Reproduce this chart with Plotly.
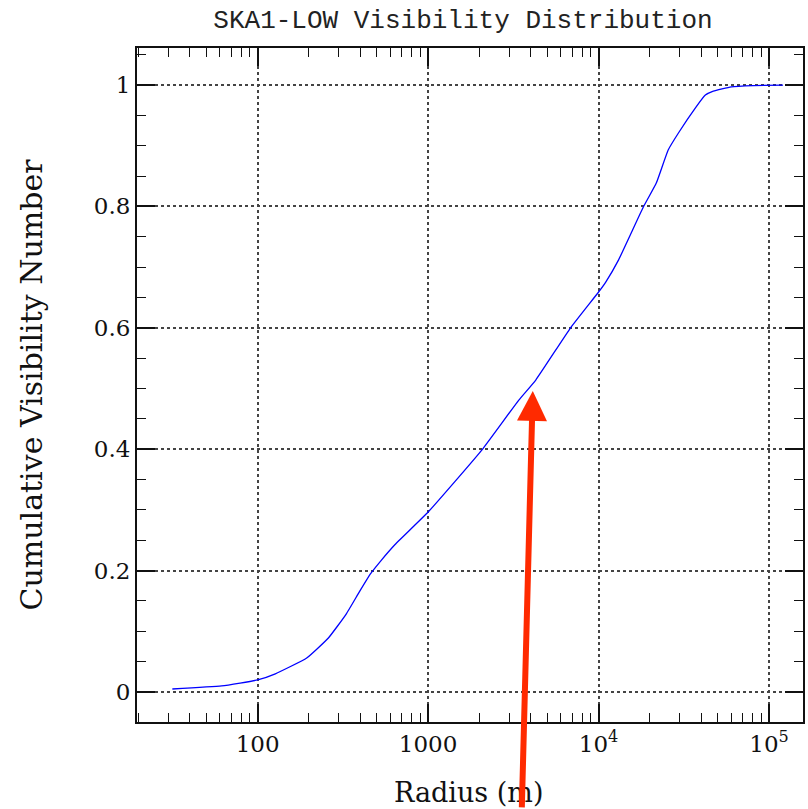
import plotly.graph_objects as go

radius_m = [31.6, 61.5, 100, 127, 194, 260, 330, 395, 460, 531, 640, 1000, 2070, 3405, 4280,
            6850, 10000, 10990, 13100, 18300, 21800, 25600, 29400, 36900, 42300, 47100,
            60000, 81000, 120800]
cum_frac = [0.005, 0.010, 0.020, 0.030, 0.056, 0.089, 0.128, 0.165, 0.195, 0.217, 0.243, 0.2965,
            0.399, 0.481, 0.514, 0.600, 0.659, 0.675, 0.712, 0.799, 0.8385, 0.893, 0.921,
            0.962, 0.9835, 0.990, 0.997, 0.999, 1.0]

x_tickvals = [100, 1000, 10000, 100000]
x_ticktext = ["100", "1000", "10<sup>4</sup>", "10<sup>5</sup>"]
x_minor_vals = [m * 10 ** d for d in range(1, 6) for m in range(2, 10)]
y_tickvals = [0, 0.2, 0.4, 0.6, 0.8, 1.0]
y_ticktext = ["0", "0.2", "0.4", "0.6", "0.8", "1"]

title_text = "SKA1-LOW Visibility Distribution"
x_title = "Radius (m)"
y_title = "Cumulative Visibility Number"

serif = "DejaVu Serif"

fig = go.Figure()
fig.add_trace(go.Scatter(x=radius_m, y=cum_frac, mode="lines",
                         line=dict(color="#0000ff", width=1.3, shape="spline", smoothing=0.4),
                         showlegend=False, hoverinfo="skip"))

fig.update_layout(
    width=808, height=809,
    margin=dict(l=137, r=3, t=48, b=87),
    paper_bgcolor="white", plot_bgcolor="white",
    title=dict(text=title_text, x=0.573, xanchor="center", y=1 - 19 / 809,
               yanchor="middle", font=dict(family="Liberation Mono", size=26, color="#222")),
    font=dict(family=serif, color="#111"),
)

fig.update_xaxes(
    type="log", range=[1.2924, 5.199],
    tickvals=x_tickvals, ticktext=x_ticktext,
    tickfont=dict(family=serif, size=23, color="#111"),
    ticks="inside", ticklen=18, tickwidth=1.5, tickcolor="#111",
    showline=True, linecolor="#111", linewidth=2, mirror="allticks",
    showgrid=True, gridcolor="#444", griddash="dot", gridwidth=1.5,
    zeroline=False,
    minor=dict(ticks="inside", ticklen=9, tickwidth=1.2, tickcolor="#111",
               tickvals=x_minor_vals, showgrid=False),
)
fig.update_yaxes(
    range=[-0.0494, 1.061],
    tickvals=y_tickvals, ticktext=y_ticktext,
    tickfont=dict(family=serif, size=23, color="#111"),
    ticks="inside", ticklen=18, tickwidth=1.5, tickcolor="#111",
    showline=True, linecolor="#111", linewidth=2, mirror="allticks",
    showgrid=True, gridcolor="#444", griddash="dot", gridwidth=1.5,
    zeroline=False,
    minor=dict(ticks="inside", ticklen=9, tickwidth=1.2, tickcolor="#111",
               tick0=0, dtick=0.05, showgrid=False),
    title=dict(text=y_title, font=dict(family=serif, size=30, color="#111"), standoff=42),
)

# x-axis title placed as an annotation below the tick labels
fig.add_annotation(text=x_title, xref="paper", yref="paper", x=0.497, y=-0.104,
                   xanchor="center", yanchor="middle", showarrow=False,
                   font=dict(family=serif, size=27, color="#111"))

# red pointer arrow overlay
fig.add_annotation(x=3.614, y=0.496, xref="x", yref="y", ax=-11, ay=418,
                   text="", showarrow=True, arrowhead=2, arrowsize=1.0,
                   arrowwidth=6, arrowcolor="#ff2a00", standoff=0)

fig.write_html("out.html")
